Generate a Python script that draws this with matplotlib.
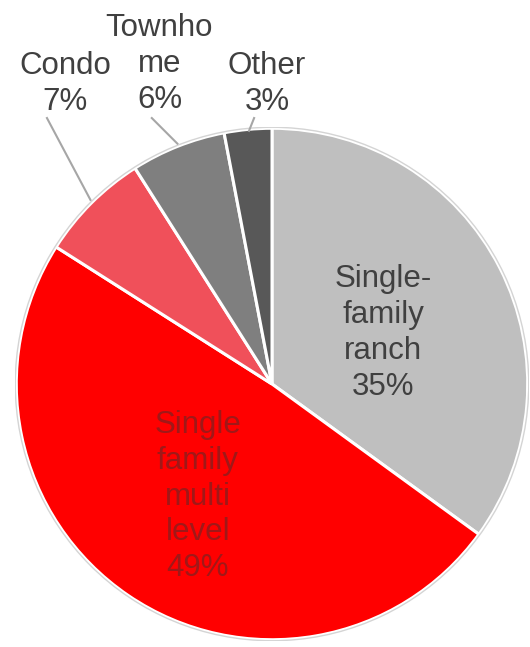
import numpy as np
import matplotlib.pyplot as plt
from matplotlib.patches import Circle

# home types, clockwise from 12 o'clock
labels = ["Single-\nfamily\nranch", "Single\nfamily\nmulti\nlevel", "Condo", "Townho\nme", "Other"]
shares = [35, 49, 7, 6, 3]
colors = ["#bfbfbf", "#ff0000", "#f0505a", "#7f7f7f", "#585858"]

# label placement in pie units (radius = 1)
inside = {0: (0.435, 0.20), 1: (-0.29, -0.44)}
outside = {2: (-0.81, 1.175), 3: (-0.44, 1.25), 4: (-0.02, 1.175)}
leaders = {2: ((-0.88, 1.04), (-0.71, 0.72)),
           3: ((-0.47, 1.04), (-0.37, 0.94)),
           4: ((-0.07, 1.04), (-0.09, 0.99))}

plt.rcParams["font.family"] = ["Liberation Sans", "DejaVu Sans"]
fig = plt.figure(figsize=(5.30, 6.47), dpi=100)
ax = fig.add_axes([15 / 530, 6 / 647, 514 / 530, 514 / 647])

wedges, _ = ax.pie(shares, colors=colors, startangle=90, counterclock=False,
                   radius=1.0, wedgeprops=dict(edgecolor="white", linewidth=2.2))
ax.add_patch(Circle((0, 0), 1.004, fill=False, edgecolor="#d4d4d4", linewidth=1.0))

for i, (x, y) in inside.items():
    col = "#404040" if i == 0 else "#a01818"
    ax.text(x, y, f"{labels[i]}\n{shares[i]}%", ha="center", va="center",
            fontsize=22.5, color=col, linespacing=1.26)

for i, (x, y) in outside.items():
    ax.text(x, y, f"{labels[i]}\n{shares[i]}%", ha="center", va="center",
            fontsize=22.5, color="#404040", linespacing=1.26)
    (x0, y0), (x1, y1) = leaders[i]
    ax.plot([x0, x1], [y0, y1], color="#a6a6a6", linewidth=1.5, clip_on=False)

ax.set_xlim(-1.005, 1.005)
ax.set_ylim(-1.005, 1.005)
ax.set_aspect("equal")
ax.axis("off")

fig.savefig("out.png", dpi=100)
